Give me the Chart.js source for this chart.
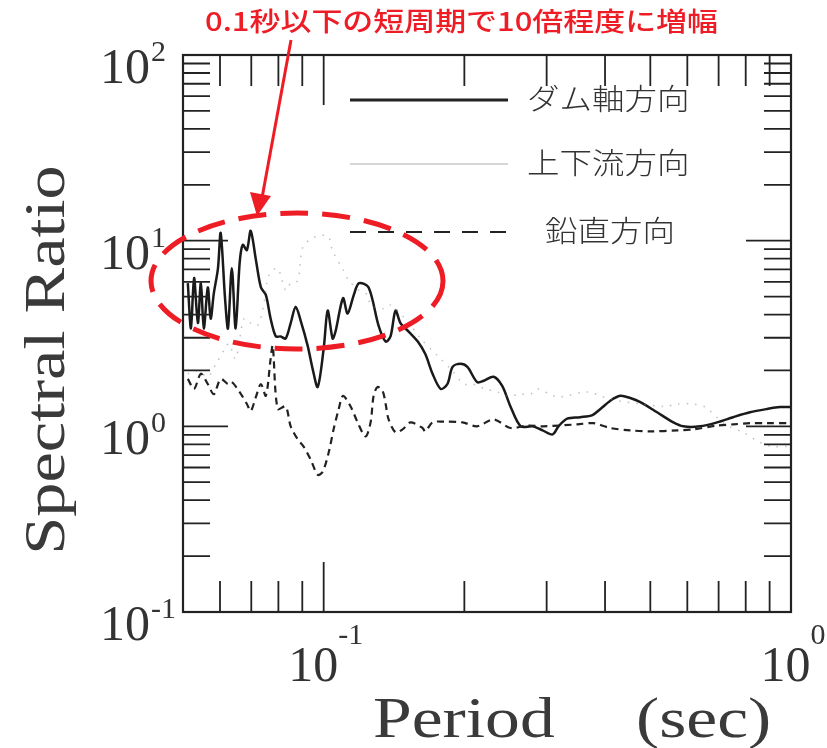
<!DOCTYPE html>
<html>
<head>
<meta charset="utf-8">
<script src="https://cdn.jsdelivr.net/npm/chart.js@4"></script>
<style>
  html, body { margin: 0; padding: 0; background: #fff; }
  #wrap { width: 827px; height: 748px; }
</style>
</head>
<body>
<div id="wrap"><canvas id="chart" width="827" height="748"></canvas></div>
<script>
// ダム軸方向 (solid)
const solidPeriod = [0.0512,0.0520,0.0528,0.0538,0.0546,0.0554,0.0565,0.0573,0.0582,0.0594,0.0602,0.0615,0.0624,0.0636,0.0648,0.0661,0.0671,0.0685,0.0698,0.0716,0.0734,0.0752,0.0770,0.0790,0.0809,0.0829,0.0850,0.0871,0.0893,0.0924,0.0947,0.0971,0.100,0.102,0.1045,0.106,0.110,0.1125,0.116,0.119,0.1248,0.131,0.1357,0.139,0.1425,0.146,0.152,0.159,0.165,0.171,0.178,0.184,0.1887,0.196,0.203,0.213,0.220,0.231,0.241,0.251,0.264,0.280,0.294,0.309,0.318,0.332,0.354,0.376,0.391,0.410,0.431,0.453,0.476,0.517,0.560,0.588,0.639,0.695,0.752,0.817,0.889,0.947,0.995];
const solidRatio = [5.9,3.37,6.3,3.6,5.9,3.37,5.6,3.8,5.2,7.1,11.0,4.9,3.37,7.1,3.37,7.6,9.5,8.9,11.3,7.9,5.6,5.1,3.8,3.05,3.05,2.97,3.6,4.4,3.7,2.72,2.04,1.63,2.62,4.2,2.97,3.24,4.9,4.05,5.1,5.9,5.6,3.5,2.86,3.05,4.2,3.6,3.24,2.86,2.45,1.92,1.59,1.69,2.09,2.17,2.09,1.73,1.76,1.85,1.65,1.28,1.00,1.00,0.951,0.905,1.0,1.10,1.12,1.15,1.24,1.37,1.46,1.42,1.35,1.19,1.05,1.0,1.0,1.05,1.12,1.19,1.24,1.27,1.27];

// 上下流方向 (thin gray dotted)
const updownPeriod = [0.0512,0.0538,0.0565,0.0588,0.0615,0.0627,0.0648,0.0675,0.0698,0.0723,0.0744,0.0763,0.0797,0.0829,0.0850,0.0880,0.0902,0.0952,0.102,0.1045,0.1103,0.1131,0.119,0.1242,0.1260,0.1343,0.139,0.1512,0.1612,0.1753,0.1887,0.1992,0.2083,0.222,0.2354,0.2473,0.264,0.277,0.2867,0.310,0.321,0.3666,0.410,0.476,0.538,0.571,0.617,0.655,0.723,0.790,0.859,0.915,0.981];
const updownRatio = [1.92,1.99,1.85,2.17,2.62,2.79,2.31,3.8,3.6,3.5,4.5,6.5,7.1,5.4,5.9,6.1,9.2,10.4,10.6,8.8,6.9,6.1,5.4,5.1,4.5,4.3,4.5,3.67,2.97,2.40,1.99,1.69,1.69,1.59,1.53,1.46,1.49,1.49,1.59,1.46,1.44,1.53,1.40,1.32,1.28,1.32,1.32,1.27,1.025,0.928,0.818,0.778,0.778];

// 鉛直方向 (dashed)
const vertPeriod = [0.0512,0.0528,0.0546,0.0565,0.0582,0.0602,0.0624,0.0636,0.0661,0.0685,0.0698,0.0716,0.0734,0.0752,0.0770,0.0778,0.0797,0.0829,0.0850,0.0880,0.0906,0.0938,0.0971,0.0995,0.1025,0.1050,0.1077,0.110,0.1142,0.1182,0.1229,0.1260,0.1279,0.1304,0.1337,0.1357,0.1377,0.1425,0.1475,0.1534,0.1627,0.165,0.171,0.1805,0.1982,0.213,0.231,0.251,0.273,0.295,0.349,0.378,0.410,0.453,0.500,0.571,0.617,0.695,0.752,0.817,0.889,0.995];
const vertRatio = [1.80,1.59,1.92,1.69,1.49,1.80,1.69,1.73,1.53,1.32,1.21,1.44,1.69,1.46,2.31,2.72,1.24,1.28,1.0,0.85,0.778,0.662,0.548,0.569,0.722,0.963,1.24,1.46,1.28,1.05,0.882,1.05,1.46,1.63,1.55,1.32,1.09,0.928,0.963,1.05,0.98,0.939,1.05,1.06,1.05,1.0,1.09,0.98,1.01,1.0,1.025,1.04,0.98,0.951,0.939,0.951,0.963,1.01,1.025,1.04,1.04,1.04];

const legendLabels = ['ダム軸方向', '上下流方向', '鉛直方向'];
const xLabelValues = [0.1, 1];
const xLabelExps = ['-1', '0'];
const yLabelValues = [0.1, 1, 10, 100];
const yLabelExps = ['-1', '0', '1', '2'];
const xMinorTicks = [0.06, 0.07, 0.08, 0.09, 0.2, 0.3, 0.4, 0.5, 0.6, 0.7, 0.8, 0.9];
const xMajorTicks = [0.1];
const yMinorTicks = [0.2, 0.3, 0.4, 0.5, 0.6, 0.7, 0.8, 0.9, 2, 3, 4, 5, 6, 7, 8, 9, 20, 30, 40, 50, 60, 70, 80, 90];
const yMajorTicks = [1, 10];
const noteText = '0.1秒以下の短周期で10倍程度に増幅';

function pts(xs, ys) {
    return xs.map((x, i) => ({ x: x, y: ys[i] }));
}

const SERIF = '"Liberation Serif", "DejaVu Serif", serif';
const JP = '"Noto Sans CJK JP", "Noto Sans", sans-serif';

function stretchText(ctx, text, x, y, sx) {
    ctx.save();
    ctx.translate(x, y);
    ctx.scale(sx, 1);
    ctx.fillText(text, 0, 0);
    ctx.restore();
}

const decorations = {
    id: 'decorations',
    afterDatasetsDraw(chart) {
        const ctx = chart.ctx;
        const xs = chart.scales.x, ys = chart.scales.y;
        const a = chart.chartArea;
        ctx.save();

        // frame
        ctx.strokeStyle = '#222';
        ctx.lineWidth = 2.2;
        ctx.strokeRect(a.left, a.top, a.right - a.left, a.bottom - a.top);

        // inward ticks
        ctx.lineWidth = 1.8;
        ctx.beginPath();
        const xt = (v, len) => {
            const p = xs.getPixelForValue(v);
            ctx.moveTo(p, a.bottom); ctx.lineTo(p, a.bottom - len);
            ctx.moveTo(p, a.top); ctx.lineTo(p, a.top + len);
        };
        const yt = (v, len) => {
            const p = ys.getPixelForValue(v);
            ctx.moveTo(a.left, p); ctx.lineTo(a.left + len, p);
            ctx.moveTo(a.right, p); ctx.lineTo(a.right - len, p);
        };
        xMinorTicks.forEach(v => xt(v, 31));
        xMajorTicks.forEach(v => xt(v, 50));
        yMinorTicks.forEach(v => yt(v, 27));
        yMajorTicks.forEach(v => yt(v, 45));
        ctx.stroke();

        // tick labels
        ctx.fillStyle = '#333';
        ctx.textBaseline = 'alphabetic';
        ctx.textAlign = 'left';
        xLabelValues.forEach((v, i) => {
            const p = xs.getPixelForValue(v);
            ctx.font = '50px ' + SERIF;
            const w1 = ctx.measureText('10').width;
            ctx.font = '30px ' + SERIF;
            const w2 = ctx.measureText(xLabelExps[i]).width;
            const x0 = p - (w1 + w2) / 2 + 2;
            ctx.font = '50px ' + SERIF;
            ctx.fillText('10', x0, 681);
            ctx.font = '30px ' + SERIF;
            ctx.fillText(xLabelExps[i], x0 + w1, 644);
        });
        yLabelValues.forEach((v, i) => {
            const p = ys.getPixelForValue(v);
            ctx.font = '50px ' + SERIF;
            ctx.fillText('10', 100, p + 28);
            const w1 = ctx.measureText('10').width;
            ctx.font = '30px ' + SERIF;
            ctx.fillText(yLabelExps[i], 100 + w1 + 1, p + 6);
        });

        // axis titles
        ctx.fillStyle = '#3a3a3a';
        ctx.font = '58px ' + SERIF;
        stretchText(ctx, 'Period', 373, 737, 1.2);
        stretchText(ctx, '(sec)', 636, 737, 1.2);
        ctx.save();
        ctx.translate(64, 360);
        ctx.rotate(-Math.PI / 2);
        ctx.textAlign = 'center';
        ctx.scale(1.18, 1);
        ctx.fillText('Spectral Ratio', 0, 0);
        ctx.restore();

        // legend
        const rows = [
            { y: 100, dash: [], w: 3, c: '#222', tx: 527 },
            { y: 164, dash: [], w: 1.2, c: 'rgba(120,120,120,0.6)', tx: 527 },
            { y: 232, dash: [16, 12], w: 2.2, c: '#222', tx: 545 }
        ];
        rows.forEach((r, i) => {
            ctx.beginPath();
            ctx.setLineDash(r.dash);
            ctx.strokeStyle = r.c;
            ctx.lineWidth = r.w;
            ctx.moveTo(350, r.y); ctx.lineTo(508, r.y);
            ctx.stroke();
            ctx.setLineDash([]);
            ctx.fillStyle = '#333';
            ctx.font = '300 29px ' + JP;
            ctx.textBaseline = 'middle';
            ctx.textAlign = 'left';
            stretchText(ctx, legendLabels[i], r.tx, r.y - 1, 1.12);
        });

        // red annotation
        const red = '#ee1c25';
        ctx.fillStyle = red;
        ctx.font = '500 26px ' + JP;
        ctx.textBaseline = 'middle';
        const tw = ctx.measureText(noteText).width;
        stretchText(ctx, noteText, 205, 21, 513 / tw);

        ctx.strokeStyle = red;
        ctx.lineWidth = 3;
        ctx.beginPath();
        ctx.moveTo(291, 40);
        ctx.lineTo(262, 198);
        ctx.stroke();
        ctx.beginPath();
        ctx.moveTo(257, 216);
        ctx.lineTo(250, 192);
        ctx.lineTo(271, 196);
        ctx.closePath();
        ctx.fill();

        ctx.lineWidth = 5;
        ctx.setLineDash([28, 14]);
        ctx.beginPath();
        ctx.ellipse(297, 281, 146, 68, 0, 0, Math.PI * 2);
        ctx.stroke();
        ctx.setLineDash([]);

        ctx.restore();
    }
};

new Chart(document.getElementById('chart'), {
    type: 'line',
    data: {
        datasets: [
            {
                label: legendLabels[1],
                data: pts(updownPeriod, updownRatio),
                borderColor: 'rgba(130,130,130,0.5)',
                borderWidth: 1.5,
                borderDash: [1.5, 7],
                pointRadius: 0,
                tension: 0.3
            },
            {
                label: legendLabels[2],
                data: pts(vertPeriod, vertRatio),
                borderColor: '#222',
                borderWidth: 2.2,
                borderDash: [7, 5],
                pointRadius: 0,
                tension: 0.3
            },
            {
                label: legendLabels[0],
                data: pts(solidPeriod, solidRatio),
                borderColor: '#1a1a1a',
                borderWidth: 2.5,
                pointRadius: 0,
                tension: 0.3
            }
        ]
    },
    options: {
        responsive: false,
        animation: false,
        layout: { padding: { left: 183, right: 36, top: 55, bottom: 136 } },
        plugins: { legend: { display: false }, tooltip: { enabled: false } },
        scales: {
            x: { type: 'logarithmic', min: 0.05, max: 1, display: false },
            y: { type: 'logarithmic', min: 0.1, max: 100, display: false }
        }
    },
    plugins: [decorations]
});
</script>
</body>
</html>
